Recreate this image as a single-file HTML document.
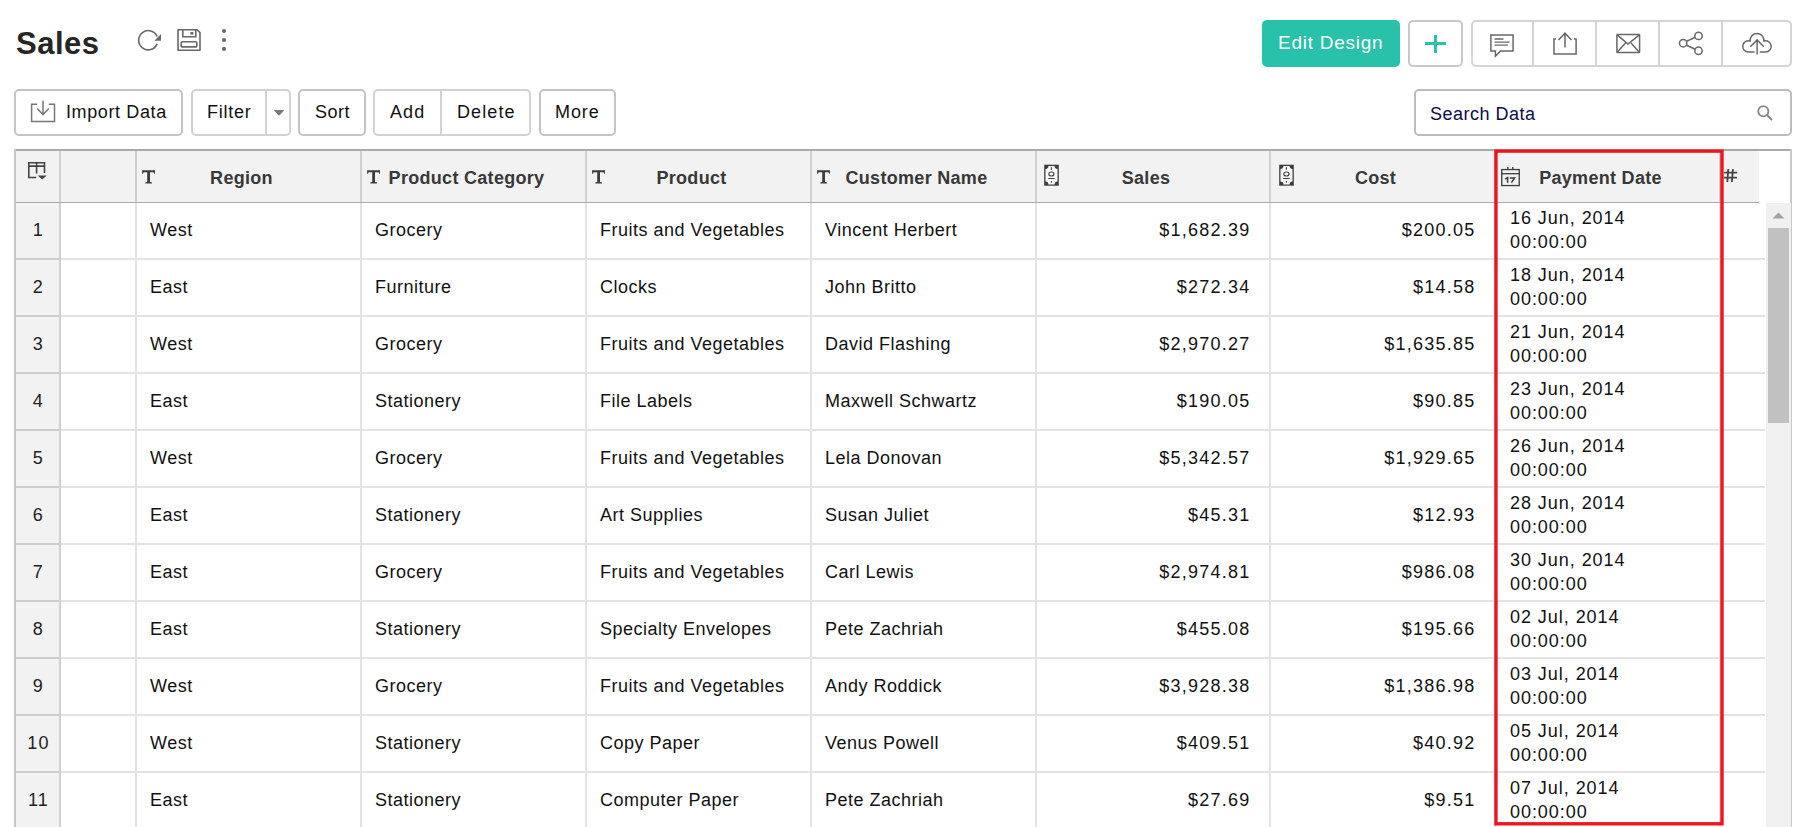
<!DOCTYPE html>
<html><head><meta charset="utf-8"><title>Sales</title>
<style>
html,body{margin:0;padding:0;background:#fff;width:1806px;height:827px;overflow:hidden;position:relative;font-family:"Liberation Sans",sans-serif;}
.a{position:absolute;}
.t{position:absolute;white-space:nowrap;line-height:20px;font-size:18px;color:#111;}
.tl{letter-spacing:0.5px;}
.tn{letter-spacing:1.25px;}
.td{letter-spacing:0.95px;}
.hd{position:absolute;white-space:nowrap;line-height:20px;font-size:18px;font-weight:bold;color:#383838;letter-spacing:0.3px;}
.btn{position:absolute;box-sizing:border-box;border:2px solid #c8c8c8;border-radius:5px;background:#fff;}
.vl{position:absolute;width:2px;}
.hl{position:absolute;height:2px;}
svg{position:absolute;overflow:visible;}
</style></head><body>

<div class="a" style="left:16px;top:26px;font-size:31px;line-height:35px;font-weight:bold;color:#262626;letter-spacing:0.5px;white-space:nowrap">Sales</div>
<svg style="left:130px;top:20px" width="40" height="40" viewBox="0 0 40 40">
<path d="M27.17 23.87 A9.6 9.6 0 1 1 27.14 16.45" fill="none" stroke="#686868" stroke-width="1.6"/>
<path d="M31 14 L31 20.7 L24.4 20.7 Z" fill="#686868"/>
</svg>
<svg style="left:170px;top:20px" width="40" height="40" viewBox="0 0 40 40">
<path d="M8 9.8 H27.2 L30 12.6 V30.2 H8 Z" fill="none" stroke="#686868" stroke-width="1.6" stroke-linejoin="round"/>
<path d="M12.8 9.8 V16.8 H25.8 V9.8" fill="none" stroke="#686868" stroke-width="1.6"/>
<rect x="20.4" y="12" width="3" height="2.6" fill="#686868"/>
<rect x="11.2" y="21.8" width="15.6" height="5.1" rx="0.8" fill="none" stroke="#686868" stroke-width="1.6"/>
</svg>
<svg style="left:214px;top:20px" width="20" height="40" viewBox="0 0 20 40">
<circle cx="10" cy="11" r="2.1" fill="#686868"/><circle cx="10" cy="20" r="2.1" fill="#686868"/><circle cx="10" cy="28.9" r="2.1" fill="#686868"/>
</svg>
<div class="a" style="left:1262px;top:20px;width:138px;height:47px;background:#28c1a9;border-radius:5px"></div>
<div class="t" style="left:1278px;top:33px;color:#fff;font-size:19px;letter-spacing:0.75px">Edit Design</div>
<div class="btn" style="left:1408px;top:20px;width:55px;height:47px"></div>
<div class="a" style="left:1425px;top:42px;width:21px;height:3px;background:#28c1a9"></div>
<div class="a" style="left:1434px;top:35px;width:3px;height:18px;background:#28c1a9"></div>
<div class="btn" style="left:1471px;top:20px;width:321px;height:47px;border-color:#d4d4d4"></div>
<div class="vl" style="left:1532px;top:20px;height:47px;background:#d4d4d4"></div>
<div class="vl" style="left:1595px;top:20px;height:47px;background:#d4d4d4"></div>
<div class="vl" style="left:1658px;top:20px;height:47px;background:#d4d4d4"></div>
<div class="vl" style="left:1721px;top:20px;height:47px;background:#d4d4d4"></div>
<svg style="left:1472px;top:20px" width="60" height="47" viewBox="0 0 60 47">
<path d="M18.9 14.9 H41.1 V31.1 H28.4 L23.4 36.2 V31.1 H18.9 Z" fill="none" stroke="#686868" stroke-width="1.5"/>
<path d="M22.5 19 H31.5 M22.5 22.1 H37.6 M22.5 25.2 H35.8" stroke="#686868" stroke-width="1.3"/>
</svg>
<svg style="left:1534px;top:20px" width="62" height="47" viewBox="0 0 62 47">
<path d="M22 19 H20 V34.1 H42.1 V19 H40" fill="none" stroke="#686868" stroke-width="1.5"/>
<path d="M31 13 V27.5 M24.5 20 L31 13.2 L37.5 20" fill="none" stroke="#686868" stroke-width="1.5"/>
</svg>
<svg style="left:1597px;top:20px" width="62" height="47" viewBox="0 0 62 47">
<rect x="19.9" y="14.6" width="22.7" height="18" rx="0.6" fill="none" stroke="#686868" stroke-width="1.5"/>
<path d="M20.2 14.9 L31 24 L42.3 14.9 M20.2 32.3 L28.5 23 M42.3 32.3 L34 23" fill="none" stroke="#686868" stroke-width="1.5"/>
</svg>
<svg style="left:1660px;top:20px" width="62" height="47" viewBox="0 0 62 47">
<circle cx="23.2" cy="23.2" r="3.7" fill="none" stroke="#686868" stroke-width="1.5"/>
<circle cx="38.5" cy="15.9" r="3.7" fill="none" stroke="#686868" stroke-width="1.5"/>
<circle cx="38.5" cy="30.8" r="3.7" fill="none" stroke="#686868" stroke-width="1.5"/>
<path d="M26.5 21.4 L35.2 17.2 M26.5 25.2 L35.2 29.2" stroke="#686868" stroke-width="1.5"/>
</svg>
<svg style="left:1723px;top:20px" width="68" height="47" viewBox="0 0 68 47">
<path d="M31.6 31.9 H25.3 A5.6 5.6 0 1 1 27.02 20.97 A7 7 0 1 1 40.99 20.94 A5.6 5.6 0 1 1 42.6 31.9 H36.7" fill="none" stroke="#686868" stroke-width="1.5"/>
<path d="M34.1 20 V34.5 M27.3 26.7 L34.1 19.9 L40.8 26.7" fill="none" stroke="#686868" stroke-width="1.5"/>
</svg>
<div class="btn" style="left:14px;top:89px;width:169px;height:47px;border-color:#c4c4c4"></div>
<svg style="left:14px;top:89px" width="60" height="47" viewBox="0 0 60 47">
<path d="M23.2 15.3 H17.6 V32.6 H40.5 V15.3 H34.8" fill="none" stroke="#777" stroke-width="1.5"/>
<path d="M29 11.5 V25.5 M23.2 19.5 L29 25.6 L34.8 19.5" fill="none" stroke="#777" stroke-width="1.5"/>
</svg>
<div class="t" style="left:66px;top:102px;letter-spacing:0.62px">Import Data</div>
<div class="btn" style="left:191px;top:89px;width:100px;height:47px;border-color:#d2d2d2"></div>
<div class="vl" style="left:265px;top:89px;height:47px;background:#d2d2d2"></div>
<svg style="left:273px;top:110px" width="12" height="6" viewBox="0 0 12 6"><path d="M0.5 0 H11.5 L6 5.8 Z" fill="#777"/></svg>
<div class="t" style="left:207px;top:102px;letter-spacing:0.75px">Filter</div>
<div class="btn" style="left:298px;top:89px;width:68px;height:47px;border-color:#c4c4c4"></div>
<div class="t tl" style="left:315px;top:102px">Sort</div>
<div class="btn" style="left:373px;top:89px;width:158px;height:47px;border-color:#d2d2d2"></div>
<div class="vl" style="left:440px;top:89px;height:47px;background:#d2d2d2"></div>
<div class="t" style="left:390px;top:102px;letter-spacing:1.1px">Add</div>
<div class="t" style="left:457px;top:102px;letter-spacing:1.1px">Delete</div>
<div class="btn" style="left:539px;top:89px;width:77px;height:47px;border-color:#c4c4c4"></div>
<div class="t" style="left:555px;top:102px;letter-spacing:0.9px">More</div>
<div class="btn" style="left:1414px;top:89px;width:378px;height:47px;border-color:#bcbcbc"></div>
<div class="t tl" style="left:1430px;top:104px;color:#0c0c4a">Search Data</div>
<svg style="left:1750px;top:98px" width="30" height="30" viewBox="0 0 30 30">
<circle cx="13.3" cy="13.3" r="5.1" fill="none" stroke="#888" stroke-width="1.8"/>
<path d="M17 17 L21.5 21.5" stroke="#888" stroke-width="2" stroke-linecap="round"/>
</svg>
<div class="a" style="left:16px;top:151px;width:1743px;height:51px;background:#f2f2f2"></div>
<div class="a" style="left:16px;top:203px;width:43px;height:624px;background:#f2f2f2"></div>
<div class="a" style="left:14px;top:149px;width:1778px;height:2px;background:#aaaaaa"></div>
<div class="a" style="left:14px;top:149px;width:2px;height:678px;background:#c4c4c4"></div>
<div class="a" style="left:1790px;top:149px;width:2px;height:678px;background:#c8c8c8"></div>
<div class="a" style="left:16px;top:202px;width:1743px;height:1px;background:#ababab"></div>
<div class="vl" style="left:59px;top:151px;height:51px;background:#d0d0d0"></div>
<div class="vl" style="left:59px;top:203px;height:624px;background:#d0d0d0"></div>
<div class="vl" style="left:135px;top:151px;height:51px;background:#d0d0d0"></div>
<div class="vl" style="left:135px;top:203px;height:624px;background:#e3e3e3"></div>
<div class="vl" style="left:360px;top:151px;height:51px;background:#d0d0d0"></div>
<div class="vl" style="left:360px;top:203px;height:624px;background:#e3e3e3"></div>
<div class="vl" style="left:585px;top:151px;height:51px;background:#d0d0d0"></div>
<div class="vl" style="left:585px;top:203px;height:624px;background:#e3e3e3"></div>
<div class="vl" style="left:810px;top:151px;height:51px;background:#d0d0d0"></div>
<div class="vl" style="left:810px;top:203px;height:624px;background:#e3e3e3"></div>
<div class="vl" style="left:1035px;top:151px;height:51px;background:#d0d0d0"></div>
<div class="vl" style="left:1035px;top:203px;height:624px;background:#e3e3e3"></div>
<div class="vl" style="left:1269px;top:151px;height:51px;background:#d0d0d0"></div>
<div class="vl" style="left:1269px;top:203px;height:624px;background:#e3e3e3"></div>
<div class="vl" style="left:1494px;top:151px;height:51px;background:#d0d0d0"></div>
<div class="vl" style="left:1494px;top:203px;height:624px;background:#e3e3e3"></div>
<div class="vl" style="left:1719px;top:151px;height:51px;background:#d0d0d0"></div>
<div class="vl" style="left:1719px;top:203px;height:624px;background:#e3e3e3"></div>
<div class="hl" style="left:16px;top:258px;width:43px;background:#cdcdcd"></div>
<div class="hl" style="left:61px;top:258px;width:1704px;background:#e3e3e3"></div>
<div class="hl" style="left:16px;top:315px;width:43px;background:#cdcdcd"></div>
<div class="hl" style="left:61px;top:315px;width:1704px;background:#e3e3e3"></div>
<div class="hl" style="left:16px;top:372px;width:43px;background:#cdcdcd"></div>
<div class="hl" style="left:61px;top:372px;width:1704px;background:#e3e3e3"></div>
<div class="hl" style="left:16px;top:429px;width:43px;background:#cdcdcd"></div>
<div class="hl" style="left:61px;top:429px;width:1704px;background:#e3e3e3"></div>
<div class="hl" style="left:16px;top:486px;width:43px;background:#cdcdcd"></div>
<div class="hl" style="left:61px;top:486px;width:1704px;background:#e3e3e3"></div>
<div class="hl" style="left:16px;top:543px;width:43px;background:#cdcdcd"></div>
<div class="hl" style="left:61px;top:543px;width:1704px;background:#e3e3e3"></div>
<div class="hl" style="left:16px;top:600px;width:43px;background:#cdcdcd"></div>
<div class="hl" style="left:61px;top:600px;width:1704px;background:#e3e3e3"></div>
<div class="hl" style="left:16px;top:657px;width:43px;background:#cdcdcd"></div>
<div class="hl" style="left:61px;top:657px;width:1704px;background:#e3e3e3"></div>
<div class="hl" style="left:16px;top:714px;width:43px;background:#cdcdcd"></div>
<div class="hl" style="left:61px;top:714px;width:1704px;background:#e3e3e3"></div>
<div class="hl" style="left:16px;top:771px;width:43px;background:#cdcdcd"></div>
<div class="hl" style="left:61px;top:771px;width:1704px;background:#e3e3e3"></div>
<div class="hl" style="left:16px;top:828px;width:43px;background:#cdcdcd"></div>
<div class="hl" style="left:61px;top:828px;width:1704px;background:#e3e3e3"></div>
<svg style="left:16px;top:151px" width="43" height="51" viewBox="0 0 43 51">
<path d="M20.3 26.5 H12.8 V11.8 H28.5 V22" fill="none" stroke="#444" stroke-width="1.6"/>
<path d="M12.8 15.1 H28.5 M20.6 12 V22.5" stroke="#444" stroke-width="1.6"/>
<path d="M21.6 24.4 H30.8 L26.2 28.6 Z" fill="#444"/>
</svg>
<svg style="left:138px;top:166px" width="22" height="22" viewBox="0 0 22 22"><path d="M4.1 4.3 H17 V7.8 Q16.4 7.8 16.1 7.6 L15.6 6.2 H12 V15.9 Q13.8 16 14 16.4 V17.5 H7.3 V16.4 Q7.5 16 9.2 15.9 V6.2 H5.6 L5.1 7.6 Q4.8 7.8 4.1 7.8 Z" fill="#3c3c3c"/></svg>
<svg style="left:363px;top:166px" width="22" height="22" viewBox="0 0 22 22"><path d="M4.1 4.3 H17 V7.8 Q16.4 7.8 16.1 7.6 L15.6 6.2 H12 V15.9 Q13.8 16 14 16.4 V17.5 H7.3 V16.4 Q7.5 16 9.2 15.9 V6.2 H5.6 L5.1 7.6 Q4.8 7.8 4.1 7.8 Z" fill="#3c3c3c"/></svg>
<svg style="left:588px;top:166px" width="22" height="22" viewBox="0 0 22 22"><path d="M4.1 4.3 H17 V7.8 Q16.4 7.8 16.1 7.6 L15.6 6.2 H12 V15.9 Q13.8 16 14 16.4 V17.5 H7.3 V16.4 Q7.5 16 9.2 15.9 V6.2 H5.6 L5.1 7.6 Q4.8 7.8 4.1 7.8 Z" fill="#3c3c3c"/></svg>
<svg style="left:813px;top:166px" width="22" height="22" viewBox="0 0 22 22"><path d="M4.1 4.3 H17 V7.8 Q16.4 7.8 16.1 7.6 L15.6 6.2 H12 V15.9 Q13.8 16 14 16.4 V17.5 H7.3 V16.4 Q7.5 16 9.2 15.9 V6.2 H5.6 L5.1 7.6 Q4.8 7.8 4.1 7.8 Z" fill="#3c3c3c"/></svg>
<svg style="left:1043px;top:164px" width="17" height="23" viewBox="0 0 17 23">
<rect x="1.2" y="0.7" width="14.6" height="21" fill="#3c3c3c"/>
<path d="M5.4 2 H11.6 A3 3 0 0 0 14.5 4.9 V17.5 A3 3 0 0 0 11.6 20.4 H5.4 A3 3 0 0 0 2.5 17.5 V4.9 A3 3 0 0 0 5.4 2 Z" fill="#fafafa"/>
<ellipse cx="8.4" cy="10" rx="2.6" ry="2" fill="none" stroke="#3c3c3c" stroke-width="1.1"/>
<path d="M8.4 3.2 V5.8 M8.4 17 V18.8 M5.3 14.5 H11.6" stroke="#3c3c3c" stroke-width="1.1"/>
</svg>
<svg style="left:1278px;top:164px" width="17" height="23" viewBox="0 0 17 23">
<rect x="1.2" y="0.7" width="14.6" height="21" fill="#3c3c3c"/>
<path d="M5.4 2 H11.6 A3 3 0 0 0 14.5 4.9 V17.5 A3 3 0 0 0 11.6 20.4 H5.4 A3 3 0 0 0 2.5 17.5 V4.9 A3 3 0 0 0 5.4 2 Z" fill="#fafafa"/>
<ellipse cx="8.4" cy="10" rx="2.6" ry="2" fill="none" stroke="#3c3c3c" stroke-width="1.1"/>
<path d="M8.4 3.2 V5.8 M8.4 17 V18.8 M5.3 14.5 H11.6" stroke="#3c3c3c" stroke-width="1.1"/>
</svg>
<svg style="left:1496px;top:162px" width="28" height="28" viewBox="0 0 28 28">
<rect x="5.75" y="7.55" width="17.5" height="16" fill="none" stroke="#3c3c3c" stroke-width="1.3"/>
<path d="M5.75 11.7 H23.25" stroke="#3c3c3c" stroke-width="1.3"/>
<path d="M11.9 5.1 V7.5 M16.8 5.1 V7.5" stroke="#3c3c3c" stroke-width="1.4"/>
<path d="M9.1 17.1 L11.6 15.5 V20.7" fill="none" stroke="#3c3c3c" stroke-width="1.5"/>
<path d="M13.8 15.9 H18.6 L15.4 20.7" fill="none" stroke="#3c3c3c" stroke-width="1.5"/>
</svg>
<svg style="left:1722px;top:166px" width="18" height="18" viewBox="0 0 18 18"><path d="M6.3 3 L5.3 16 M10.9 3 L9.9 16 M2.2 6.6 H15.2 M1.9 11.6 H14.9" stroke="#444" stroke-width="1.8"/></svg>
<div class="hd" style="left:41.5px;width:400px;text-align:center;top:168px">Region</div>
<div class="hd" style="left:266.5px;width:400px;text-align:center;top:168px">Product Category</div>
<div class="hd" style="left:491.5px;width:400px;text-align:center;top:168px">Product</div>
<div class="hd" style="left:716.5px;width:400px;text-align:center;top:168px">Customer Name</div>
<div class="hd" style="left:946.0px;width:400px;text-align:center;top:168px">Sales</div>
<div class="hd" style="left:1175.5px;width:400px;text-align:center;top:168px">Cost</div>
<div class="hd" style="left:1400.5px;width:400px;text-align:center;top:168px">Payment Date</div>
<div class="t tn" style="left:17px;width:43px;text-align:center;top:220px;color:#222">1</div>
<div class="t tl" style="left:150px;top:220px">West</div>
<div class="t tl" style="left:375px;top:220px">Grocery</div>
<div class="t tl" style="left:600px;top:220px">Fruits and Vegetables</div>
<div class="t tl" style="left:825px;top:220px">Vincent Herbert</div>
<div class="t tn" style="right:555.5px;top:220px">$1,682.39</div>
<div class="t tn" style="right:330.5px;top:220px">$200.05</div>
<div class="t td" style="left:1510px;top:206px;line-height:24px">16 Jun, 2014<br>00:00:00</div>
<div class="t tn" style="left:17px;width:43px;text-align:center;top:277px;color:#222">2</div>
<div class="t tl" style="left:150px;top:277px">East</div>
<div class="t tl" style="left:375px;top:277px">Furniture</div>
<div class="t tl" style="left:600px;top:277px">Clocks</div>
<div class="t tl" style="left:825px;top:277px">John Britto</div>
<div class="t tn" style="right:555.5px;top:277px">$272.34</div>
<div class="t tn" style="right:330.5px;top:277px">$14.58</div>
<div class="t td" style="left:1510px;top:263px;line-height:24px">18 Jun, 2014<br>00:00:00</div>
<div class="t tn" style="left:17px;width:43px;text-align:center;top:334px;color:#222">3</div>
<div class="t tl" style="left:150px;top:334px">West</div>
<div class="t tl" style="left:375px;top:334px">Grocery</div>
<div class="t tl" style="left:600px;top:334px">Fruits and Vegetables</div>
<div class="t tl" style="left:825px;top:334px">David Flashing</div>
<div class="t tn" style="right:555.5px;top:334px">$2,970.27</div>
<div class="t tn" style="right:330.5px;top:334px">$1,635.85</div>
<div class="t td" style="left:1510px;top:320px;line-height:24px">21 Jun, 2014<br>00:00:00</div>
<div class="t tn" style="left:17px;width:43px;text-align:center;top:391px;color:#222">4</div>
<div class="t tl" style="left:150px;top:391px">East</div>
<div class="t tl" style="left:375px;top:391px">Stationery</div>
<div class="t tl" style="left:600px;top:391px">File Labels</div>
<div class="t tl" style="left:825px;top:391px">Maxwell Schwartz</div>
<div class="t tn" style="right:555.5px;top:391px">$190.05</div>
<div class="t tn" style="right:330.5px;top:391px">$90.85</div>
<div class="t td" style="left:1510px;top:377px;line-height:24px">23 Jun, 2014<br>00:00:00</div>
<div class="t tn" style="left:17px;width:43px;text-align:center;top:448px;color:#222">5</div>
<div class="t tl" style="left:150px;top:448px">West</div>
<div class="t tl" style="left:375px;top:448px">Grocery</div>
<div class="t tl" style="left:600px;top:448px">Fruits and Vegetables</div>
<div class="t tl" style="left:825px;top:448px">Lela Donovan</div>
<div class="t tn" style="right:555.5px;top:448px">$5,342.57</div>
<div class="t tn" style="right:330.5px;top:448px">$1,929.65</div>
<div class="t td" style="left:1510px;top:434px;line-height:24px">26 Jun, 2014<br>00:00:00</div>
<div class="t tn" style="left:17px;width:43px;text-align:center;top:505px;color:#222">6</div>
<div class="t tl" style="left:150px;top:505px">East</div>
<div class="t tl" style="left:375px;top:505px">Stationery</div>
<div class="t tl" style="left:600px;top:505px">Art Supplies</div>
<div class="t tl" style="left:825px;top:505px">Susan Juliet</div>
<div class="t tn" style="right:555.5px;top:505px">$45.31</div>
<div class="t tn" style="right:330.5px;top:505px">$12.93</div>
<div class="t td" style="left:1510px;top:491px;line-height:24px">28 Jun, 2014<br>00:00:00</div>
<div class="t tn" style="left:17px;width:43px;text-align:center;top:562px;color:#222">7</div>
<div class="t tl" style="left:150px;top:562px">East</div>
<div class="t tl" style="left:375px;top:562px">Grocery</div>
<div class="t tl" style="left:600px;top:562px">Fruits and Vegetables</div>
<div class="t tl" style="left:825px;top:562px">Carl Lewis</div>
<div class="t tn" style="right:555.5px;top:562px">$2,974.81</div>
<div class="t tn" style="right:330.5px;top:562px">$986.08</div>
<div class="t td" style="left:1510px;top:548px;line-height:24px">30 Jun, 2014<br>00:00:00</div>
<div class="t tn" style="left:17px;width:43px;text-align:center;top:619px;color:#222">8</div>
<div class="t tl" style="left:150px;top:619px">East</div>
<div class="t tl" style="left:375px;top:619px">Stationery</div>
<div class="t tl" style="left:600px;top:619px">Specialty Envelopes</div>
<div class="t tl" style="left:825px;top:619px">Pete Zachriah</div>
<div class="t tn" style="right:555.5px;top:619px">$455.08</div>
<div class="t tn" style="right:330.5px;top:619px">$195.66</div>
<div class="t td" style="left:1510px;top:605px;line-height:24px">02 Jul, 2014<br>00:00:00</div>
<div class="t tn" style="left:17px;width:43px;text-align:center;top:676px;color:#222">9</div>
<div class="t tl" style="left:150px;top:676px">West</div>
<div class="t tl" style="left:375px;top:676px">Grocery</div>
<div class="t tl" style="left:600px;top:676px">Fruits and Vegetables</div>
<div class="t tl" style="left:825px;top:676px">Andy Roddick</div>
<div class="t tn" style="right:555.5px;top:676px">$3,928.38</div>
<div class="t tn" style="right:330.5px;top:676px">$1,386.98</div>
<div class="t td" style="left:1510px;top:662px;line-height:24px">03 Jul, 2014<br>00:00:00</div>
<div class="t tn" style="left:17px;width:43px;text-align:center;top:733px;color:#222">10</div>
<div class="t tl" style="left:150px;top:733px">West</div>
<div class="t tl" style="left:375px;top:733px">Stationery</div>
<div class="t tl" style="left:600px;top:733px">Copy Paper</div>
<div class="t tl" style="left:825px;top:733px">Venus Powell</div>
<div class="t tn" style="right:555.5px;top:733px">$409.51</div>
<div class="t tn" style="right:330.5px;top:733px">$40.92</div>
<div class="t td" style="left:1510px;top:719px;line-height:24px">05 Jul, 2014<br>00:00:00</div>
<div class="t tn" style="left:17px;width:43px;text-align:center;top:790px;color:#222">11</div>
<div class="t tl" style="left:150px;top:790px">East</div>
<div class="t tl" style="left:375px;top:790px">Stationery</div>
<div class="t tl" style="left:600px;top:790px">Computer Paper</div>
<div class="t tl" style="left:825px;top:790px">Pete Zachriah</div>
<div class="t tn" style="right:555.5px;top:790px">$27.69</div>
<div class="t tn" style="right:330.5px;top:790px">$9.51</div>
<div class="t td" style="left:1510px;top:776px;line-height:24px">07 Jul, 2014<br>00:00:00</div>
<div class="a" style="left:1766px;top:203px;width:25px;height:624px;background:#f0f0f0"></div>
<svg style="left:1772px;top:212px" width="13" height="8" viewBox="0 0 13 8"><path d="M0.5 6.6 H12.5 L6.5 0.6 Z" fill="#a3a3a3"/></svg>
<div class="a" style="left:1768px;top:228px;width:21px;height:195px;background:#c1c1c1"></div>
<svg style="left:0;top:0" width="1806" height="827" viewBox="0 0 1806 827"><rect x="1495.95" y="151.1" width="226.05" height="672.7" fill="none" stroke="#ec1620" stroke-width="3.4"/></svg>
</body></html>
